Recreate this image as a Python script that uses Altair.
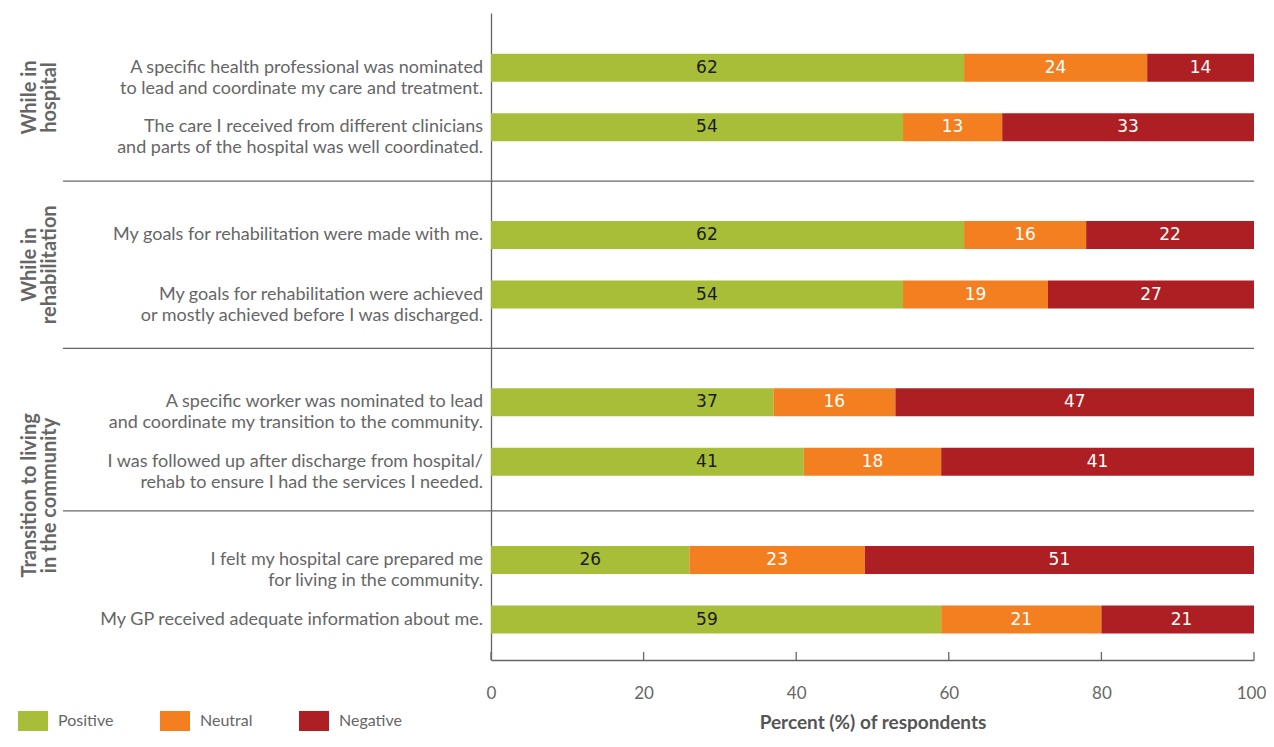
import altair as alt
import pandas as pd

# ---------------- data ----------------
questions = [
    "A specific health professional was nominated\nto lead and coordinate my care and treatment.",
    "The care I received from different clinicians\nand parts of the hospital was well coordinated.",
    "My goals for rehabilitation were made with me.",
    "My goals for rehabilitation were achieved\nor mostly achieved before I was discharged.",
    "A specific worker was nominated to lead\nand coordinate my transition to the community.",
    "I was followed up after discharge from hospital/\nrehab to ensure I had the services I needed.",
    "I felt my hospital care prepared me\nfor living in the community.",
    "My GP received adequate information about me.",
]
positive = [62, 54, 62, 54, 37, 41, 26, 59]
neutral = [24, 13, 16, 19, 16, 18, 23, 21]
negative = [14, 33, 22, 27, 47, 41, 51, 21]
categories = ["Positive", "Neutral", "Negative"]
group_labels = ["While in\nhospital", "While in\nrehabilitation", "Transition to living\nin the community"]
tick_values = [0, 20, 40, 60, 80, 100]

# ---------------- layout ----------------
section_of_row = [0, 0, 1, 1, 2, 2, 3, 3]
section_gaps = [0.0, 0.81, 0.81, 0.65]       # extra space before each section (row units)
group_sections = [[0], [1], [2, 3]]
group_nudge = [0.0, 0.0, -0.26]
q_nudge_px = [-7, -4, 0, -2, 0, 0, 0, 0]
POS_LABEL_ANCHOR = 28.3                       # positive labels sit here when the bar is long enough
colors = ["#A8BE38", "#F47F20", "#AE1F24"]
text_colors = ["#1a1a1a", "#ffffff", "#ffffff"]
PLOT_W, PLOT_H = 763, 647
GRAY = "#666666"
FONT = "Lato"

offsets = []
acc = 0.0
for g in section_gaps:
    acc += g
    offsets.append(acc)
row_y = [i + offsets[s] for i, s in enumerate(section_of_row)]
sep_y = []
for k in range(1, len(section_gaps)):
    last = max(i for i, s in enumerate(section_of_row) if s == k - 1)
    first = min(i for i, s in enumerate(section_of_row) if s == k)
    sep_y.append((row_y[last] + row_y[first]) / 2)
group_y = []
for gi, secs in enumerate(group_sections):
    rows = [row_y[i] for i, s in enumerate(section_of_row) if s in secs]
    group_y.append((min(rows) + max(rows)) / 2 + group_nudge[gi])

y_domain = [row_y[0] - 0.92, row_y[-1] + 0.68]

records = []
for i in range(len(questions)):
    vals = [positive[i], neutral[i], negative[i]]
    start = 0
    for c, v in enumerate(vals):
        mid = start + v / 2
        if c == 0 and v > POS_LABEL_ANCHOR + 3:
            mid = POS_LABEL_ANCHOR
        records.append(dict(q=questions[i], y=row_y[i], category=categories[c],
                            value=v, start=start, end=start + v,
                            mid=mid, tcolor=text_colors[c]))
        start += v
bars_df = pd.DataFrame(records)
q_df = pd.DataFrame({"q": questions, "y": row_y, "dy": q_nudge_px})
sep_df = pd.DataFrame({"y": sep_y})
grp_df = pd.DataFrame({"label": group_labels, "y": group_y})
tick_df = pd.DataFrame({"t": tick_values})

xscale = alt.Scale(domain=[0, 100], nice=False, clamp=True, padding=0)
yscale = alt.Scale(domain=y_domain, reverse=True, nice=False, zero=False, padding=0)

x_axis = alt.Axis(values=tick_values, ticks=False, grid=False, domainColor=GRAY,
                  domainWidth=1.3, labelFont=FONT, labelFontSize=17, labelColor=GRAY,
                  labelPadding=25, labelFlush=False,
                  labelOffset={"condition": {"test": "datum.value === 100", "value": -3},
                               "value": 0},
                  title="Percent (%) of respondents", titleFont=FONT, titleFontSize=19,
                  titleFontWeight="bold", titleColor="#555555", titlePadding=12)
y_axis = alt.Axis(labels=False, ticks=False, grid=False, title=None,
                  domainColor=GRAY, domainWidth=1.3)

bars = alt.Chart(bars_df).mark_bar(size=28).encode(
    x=alt.X("start:Q", scale=xscale, axis=x_axis),
    x2="end:Q",
    y=alt.Y("y:Q", scale=yscale, axis=y_axis),
    color=alt.Color("category:N", scale=alt.Scale(domain=categories, range=colors),
                    legend=alt.Legend(title=None, orient="none", legendX=-468, legendY=698,
                                      direction="horizontal", padding=0,
                                      symbolType="M-1.5,-1H1.5V1H-1.5Z", symbolSize=400,
                                      symbolStrokeWidth=0, symbolOpacity=1,
                                      labelOffset=15, columnPadding=46,
                                      labelFont=FONT, labelFontSize=16, labelColor=GRAY)),
)

nums = alt.Chart(bars_df).mark_text(font="DejaVu Sans", fontSize=17, baseline="middle",
                                    align="center").encode(
    x=alt.X("mid:Q", scale=xscale),
    y=alt.Y("y:Q", scale=yscale),
    text="value:Q",
    color=alt.Color("tcolor:N", scale=None),
)

qtext = alt.Chart(q_df).mark_text(align="right", baseline="middle", lineBreak="\n",
                                  font=FONT, fontSize=18, color=GRAY, lineHeight=21).encode(
    x=alt.value(-8),
    y=alt.Y("y:Q", scale=yscale),
    yOffset=alt.YOffset("dy:Q", scale=None),
    text="q:N",
)

seps = alt.Chart(sep_df).mark_rule(color=GRAY, strokeWidth=1.3).encode(
    x=alt.value(-428), x2=alt.value(PLOT_W),
    y=alt.Y("y:Q", scale=yscale),
)

grp = alt.Chart(grp_df).mark_text(angle=270, align="center", baseline="middle",
                                  lineBreak="\n", font=FONT, fontSize=20, fontWeight="bold",
                                  color=GRAY, lineHeight=20).encode(
    x=alt.value(-461),
    y=alt.Y("y:Q", scale=yscale),
    text="label:N",
)

ticks = alt.Chart(tick_df).mark_rule(color=GRAY, strokeWidth=1.3).encode(
    x=alt.X("t:Q", scale=xscale),
    y=alt.value(PLOT_H - 8), y2=alt.value(PLOT_H),
)

chart = alt.layer(seps, bars, nums, qtext, grp, ticks).properties(
    width=PLOT_W, height=PLOT_H,
    autosize=alt.AutoSizeParams(type="none"),
    padding={"left": 483, "top": 5, "right": 12, "bottom": 74},
).configure_view(stroke=None)

chart.save("out.html", embed_options={"renderer": "svg", "actions": False})
